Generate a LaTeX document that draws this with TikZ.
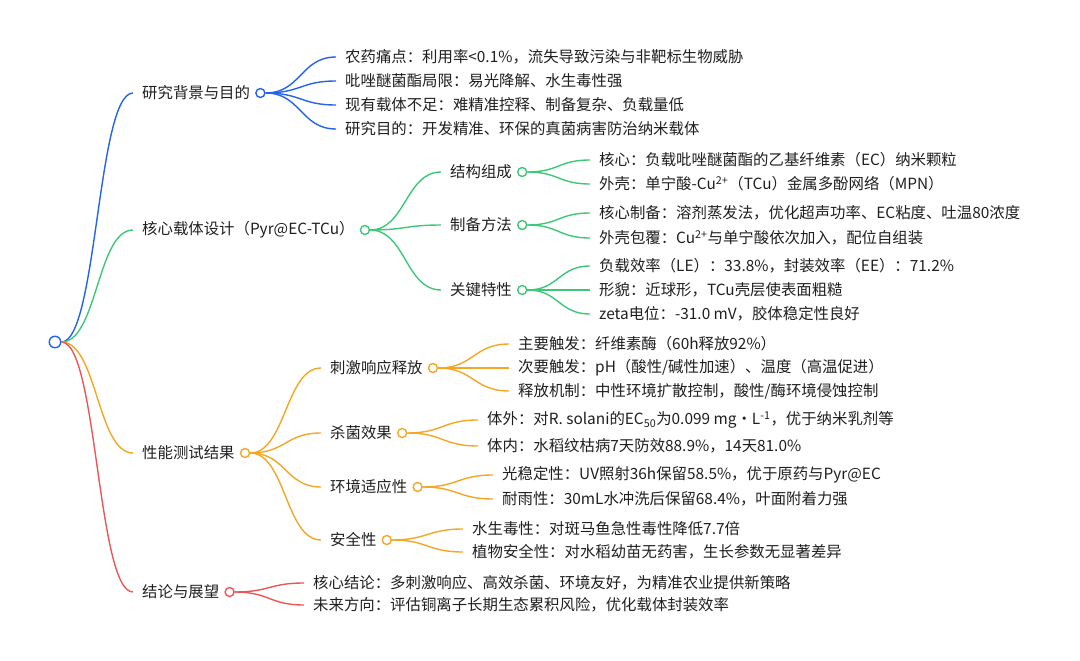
\documentclass[tikz,border=0pt]{standalone}
\usepackage{fontspec}
\setmainfont{Noto Sans CJK SC}
\usetikzlibrary{positioning, calc}
\definecolor{mmblue}{RGB}{37,99,235}
\definecolor{mmgreen}{RGB}{60,200,120}
\definecolor{mmorange}{RGB}{245,166,35}
\definecolor{mmred}{RGB}{235,87,87}

\begin{document}
\begin{tikzpicture}[x=1pt, y=-1pt,
topic/.style={anchor=west, inner sep=0pt, font=\fontsize{15.4}{18}\selectfont, text=black!88},
dot/.style={circle, draw, fill=white, line width=1.4pt, minimum size=9pt, inner sep=0pt},
link/.style={line width=1.4pt, to path={let \p1=(\tikztostart), \p2=(\tikztotarget) in
  .. controls ({(\x1+\x2)/2},\y1) and ({(\x1+\x2)/2},\y2) .. (\tikztotarget)}}
]
\useasboundingbox (0,0) rectangle (1080,661);
\node[dot, draw=mmblue, minimum size=11.5pt] (root) at (55,342) {};

\node[topic] (bg) at (142,93) {研究背景与目的};
\node[dot, draw=mmblue, right=5pt of bg] (bgd) {};
\node[topic] (bg1) at (345,57) {农药痛点：利用率<0.1\%，流失导致污染与非靶标生物威胁};
\node[topic] (bg2) at (345,81) {吡唑醚菌酯局限：易光降解、水生毒性强};
\node[topic] (bg3) at (345,105) {现有载体不足：难精准控释、制备复杂、负载量低};
\node[topic] (bg4) at (345,129) {研究目的：开发精准、环保的真菌病害防治纳米载体};

\node[topic] (core) at (142,230) {核心载体设计（Pyr@EC-TCu）};
\node[dot, draw=mmgreen, right=5pt of core] (cored) {};
\node[topic] (cs) at (450,172) {结构组成};
\node[dot, draw=mmgreen, right=5pt of cs] (csd) {};
\node[topic] (cp) at (450,225) {制备方法};
\node[dot, draw=mmgreen, right=5pt of cp] (cpd) {};
\node[topic] (ck) at (450,290) {关键特性};
\node[dot, draw=mmgreen, right=5pt of ck] (ckd) {};
\node[topic] (cs1) at (599,160) {核心：负载吡唑醚菌酯的乙基纤维素（EC）纳米颗粒};
\node[topic] (cs2) at (599,184) {外壳：单宁酸-Cu\textsuperscript{2+}（TCu）金属多酚网络（MPN）};
\node[topic] (cp1) at (599,213) {核心制备：溶剂蒸发法，优化超声功率、EC粘度、吐温80浓度};
\node[topic] (cp2) at (599,238) {外壳包覆：Cu\textsuperscript{2+}与单宁酸依次加入，配位自组装};
\node[topic] (ck1) at (599,266) {负载效率（LE）：33.8\%，封装效率（EE）：71.2\%};
\node[topic] (ck2) at (599,290) {形貌：近球形，TCu壳层使表面粗糙};
\node[topic] (ck3) at (599,314) {zeta电位：-31.0 mV，胶体稳定性良好};

\node[topic] (perf) at (142,453) {性能测试结果};
\node[dot, draw=mmorange, right=5pt of perf] (perfd) {};
\node[topic] (pr) at (330,368) {刺激响应释放};
\node[dot, draw=mmorange, right=5pt of pr] (prd) {};
\node[topic] (pa) at (330,433) {杀菌效果};
\node[dot, draw=mmorange, right=5pt of pa] (pad) {};
\node[topic] (pe) at (330,487) {环境适应性};
\node[dot, draw=mmorange, right=5pt of pe] (ped) {};
\node[topic] (ps) at (330,540) {安全性};
\node[dot, draw=mmorange, right=5pt of ps] (psd) {};
\node[topic] (pr1) at (518,344) {主要触发：纤维素酶（60h释放92\%）};
\node[topic] (pr2) at (518,368) {次要触发：pH（酸性/碱性加速）、温度（高温促进）};
\node[topic] (pr3) at (518,391) {释放机制：中性环境扩散控制，酸性/酶环境侵蚀控制};
\node[topic] (pa1) at (487,420) {体外：对R. solani的EC\textsubscript{50}为0.099 mg・L\textsuperscript{-1}，优于纳米乳剂等};
\node[topic] (pa2) at (487,446) {体内：水稻纹枯病7天防效88.9\%，14天81.0\%};
\node[topic] (pe1) at (502,475) {光稳定性：UV照射36h保留58.5\%，优于原药与Pyr@EC};
\node[topic] (pe2) at (502,499) {耐雨性：30mL水冲洗后保留68.4\%，叶面附着力强};
\node[topic] (ps1) at (472,529) {水生毒性：对斑马鱼急性毒性降低7.7倍};
\node[topic] (ps2) at (472,552) {植物安全性：对水稻幼苗无药害，生长参数无显著差异};

\node[topic] (concl) at (142,592) {结论与展望};
\node[dot, draw=mmred, right=5pt of concl] (concld) {};
\node[topic] (concl1) at (313,583) {核心结论：多刺激响应、高效杀菌、环境友好，为精准农业提供新策略};
\node[topic] (concl2) at (313,605) {未来方向：评估铜离子长期生态累积风险，优化载体封装效率};

\draw[link, mmblue] (root.east) to ([xshift=-9pt]bg.west);
\draw[link, mmgreen] (root.east) to ([xshift=-9pt]core.west);
\draw[link, mmorange] (root.east) to ([xshift=-9pt]perf.west);
\draw[link, mmred] (root.east) to ([xshift=-9pt]concl.west);

\draw[link, mmblue] (bgd.east) to ([xshift=-9pt]bg1.west);
\draw[link, mmblue] (bgd.east) to ([xshift=-9pt]bg2.west);
\draw[link, mmblue] (bgd.east) to ([xshift=-9pt]bg3.west);
\draw[link, mmblue] (bgd.east) to ([xshift=-9pt]bg4.west);

\draw[link, mmgreen] (cored.east) to ([xshift=-9pt]cs.west);
\draw[link, mmgreen] (cored.east) to ([xshift=-9pt]cp.west);
\draw[link, mmgreen] (cored.east) to ([xshift=-9pt]ck.west);
\draw[link, mmgreen] (csd.east) to ([xshift=-9pt]cs1.west);
\draw[link, mmgreen] (csd.east) to ([xshift=-9pt]cs2.west);
\draw[link, mmgreen] (cpd.east) to ([xshift=-9pt]cp1.west);
\draw[link, mmgreen] (cpd.east) to ([xshift=-9pt]cp2.west);
\draw[link, mmgreen] (ckd.east) to ([xshift=-9pt]ck1.west);
\draw[link, mmgreen] (ckd.east) to ([xshift=-9pt]ck2.west);
\draw[link, mmgreen] (ckd.east) to ([xshift=-9pt]ck3.west);

\draw[link, mmorange] (perfd.east) to ([xshift=-9pt]pr.west);
\draw[link, mmorange] (perfd.east) to ([xshift=-9pt]pa.west);
\draw[link, mmorange] (perfd.east) to ([xshift=-9pt]pe.west);
\draw[link, mmorange] (perfd.east) to ([xshift=-9pt]ps.west);
\draw[link, mmorange] (prd.east) to ([xshift=-9pt]pr1.west);
\draw[link, mmorange] (prd.east) to ([xshift=-9pt]pr2.west);
\draw[link, mmorange] (prd.east) to ([xshift=-9pt]pr3.west);
\draw[link, mmorange] (pad.east) to ([xshift=-9pt]pa1.west);
\draw[link, mmorange] (pad.east) to ([xshift=-9pt]pa2.west);
\draw[link, mmorange] (ped.east) to ([xshift=-9pt]pe1.west);
\draw[link, mmorange] (ped.east) to ([xshift=-9pt]pe2.west);
\draw[link, mmorange] (psd.east) to ([xshift=-9pt]ps1.west);
\draw[link, mmorange] (psd.east) to ([xshift=-9pt]ps2.west);

\draw[link, mmred] (concld.east) to ([xshift=-9pt]concl1.west);
\draw[link, mmred] (concld.east) to ([xshift=-9pt]concl2.west);
\end{tikzpicture}
\end{document}
